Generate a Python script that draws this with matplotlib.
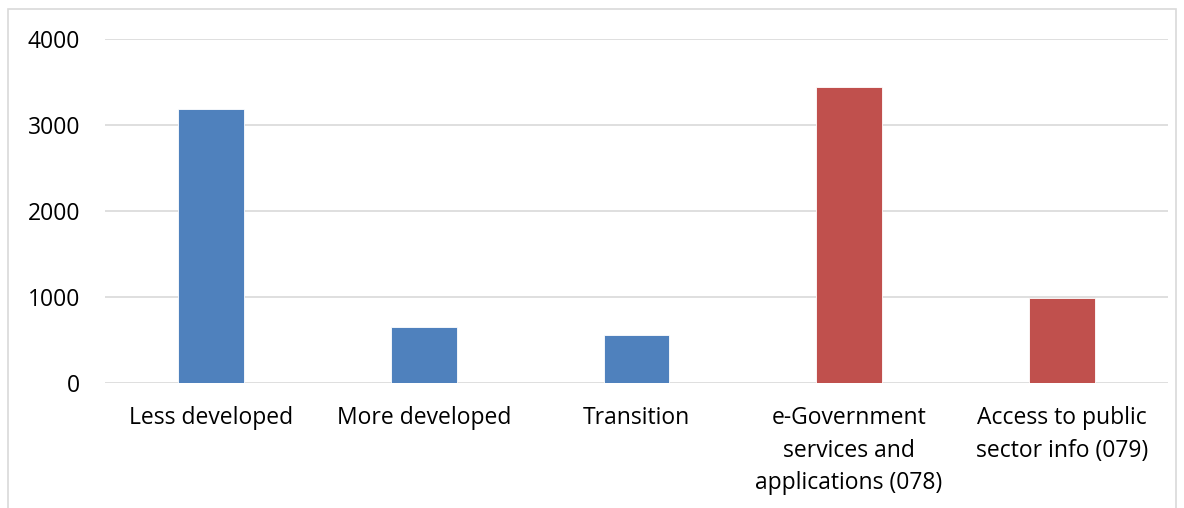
import matplotlib
matplotlib.use("Agg")
import matplotlib.pyplot as plt
from matplotlib.patches import Rectangle

categories = ["Less developed", "More developed", "Transition",
              "e-Government\nservices and\napplications (078)",
              "Access to public\nsector info (079)"]
values = [3180, 650, 553, 3437, 984]
colors = ["#4F81BD", "#4F81BD", "#4F81BD", "#C0504D", "#C0504D"]
yticks = [0, 1000, 2000, 3000, 4000]

plt.rcParams['font.family'] = ['Open Sans', 'DejaVu Sans']

W, H = 1184, 508
fig = plt.figure(figsize=(W / 100, H / 100), dpi=100)
ax = fig.add_axes([105 / W, 1 - 382.5 / H, (1168 - 105) / W, (382.5 - 39) / H])

x = list(range(len(categories)))
ax.bar(x, values, width=0.31, color=colors, edgecolor="white", linewidth=0.6, zorder=3)
ax.set_xlim(-0.5, len(categories) - 0.5)
ax.set_ylim(0, 4000)
ax.set_yticks(yticks)
ax.set_yticklabels([str(v) for v in yticks])
ax.set_xticks(x)
ax.set_xticklabels(categories, linespacing=1.48, va="top")
ax.tick_params(axis="both", length=0, labelsize=16.5, colors="black")
ax.tick_params(axis="y", pad=18)
ax.tick_params(axis="x", pad=17)
ax.grid(axis="y", color="#D9D9D9", linewidth=1.2, zorder=0)
for s in ax.spines.values():
    s.set_visible(False)

fig.patches.append(Rectangle((8 / W, -0.05), (1176 - 8) / W, 1 - 9 / H + 0.05,
                             transform=fig.transFigure, fill=False,
                             edgecolor="#D9D9D9", linewidth=1.2))

fig.savefig("out.png", dpi=100)
